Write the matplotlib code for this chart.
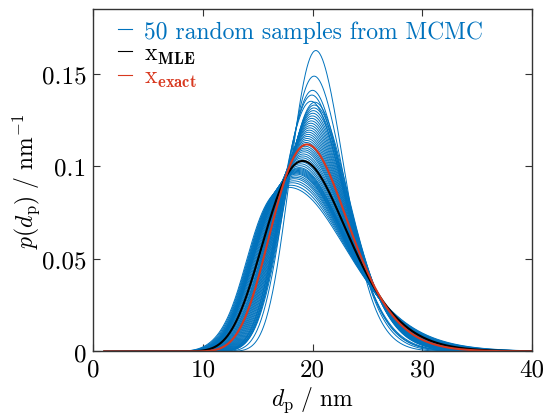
import numpy as np
import matplotlib
matplotlib.use("Agg")
import matplotlib.pyplot as plt
from matplotlib.lines import Line2D

# lognormal sample curves: median / nm, log-width, shoulder weight
sample_median = [20.6, 20.5, 20.4, 20.35, 20.3,
                 20.65, 20.61, 20.58, 20.54, 20.50, 20.47, 20.43, 20.40, 20.36, 20.33,
                 20.29, 20.26, 20.22, 20.19, 20.15, 20.12, 20.09, 20.06, 20.03, 20.00,
                 19.97, 19.94, 19.92, 19.89, 19.86, 19.83, 19.81,
                 19.79, 19.76, 19.74, 19.72, 19.71, 19.70, 19.69, 19.68, 19.67, 19.66,
                 19.66, 19.65, 19.64, 19.63, 19.62, 19.61, 19.60, 19.58]
sample_sigma = [0.120, 0.132, 0.140, 0.143, 0.147,
                0.145, 0.147, 0.149, 0.151, 0.153, 0.155, 0.157, 0.159, 0.161, 0.163,
                0.165, 0.167, 0.169, 0.171, 0.173, 0.175, 0.177, 0.179, 0.181, 0.183,
                0.185, 0.187, 0.189, 0.191, 0.193, 0.195, 0.197,
                0.199, 0.201, 0.203, 0.205, 0.206, 0.207, 0.208, 0.209, 0.210, 0.211,
                0.212, 0.214, 0.216, 0.218, 0.221, 0.224, 0.228, 0.232]
sample_shoulder = [0, 0, 0, 0, 0,
                   0, 0, 0, 0, 0, 0, 0, 0, 0, 0,
                   0, 0, 0, 0, 0, 0, 0, 0, 0, 0,
                   0, 0, 0, 0.003, 0.005, 0.007, 0.009,
                   0.012, 0.015, 0.018, 0.021, 0.023, 0.025, 0.027, 0.029, 0.031, 0.033,
                   0.035, 0.037, 0.039, 0.041, 0.043, 0.045, 0.047, 0.050]
shoulder_median = 15.5
shoulder_sigma = 0.10

mle_median, mle_sigma = 19.87, 0.199
exact_median, exact_sigma = 20.14, 0.180

xticks = [0, 10, 20, 30, 40]
yticks = [0, 0.05, 0.1, 0.15]
ytick_labels = ["0", "0.05", "0.1", "0.15"]

blue = "#0072BD"
red = "#D8381F"


def lognorm(d, med, s):
    return np.exp(-(np.log(d / med)) ** 2 / (2 * s ** 2)) / (d * s * np.sqrt(2 * np.pi))


plt.rcParams["mathtext.fontset"] = "cm"
plt.rcParams["font.family"] = "cmr10"
plt.rcParams["axes.formatter.use_mathtext"] = True

fig = plt.figure(figsize=(5.48, 4.14), dpi=100)
ax = fig.add_axes([0.1703, 0.1486, 0.800, 0.8273])

d = np.linspace(1, 40, 600)
for med, s, w in zip(sample_median, sample_sigma, sample_shoulder):
    p = (1 - w) * lognorm(d, med, s) + w * lognorm(d, shoulder_median, shoulder_sigma)
    ax.plot(d, p, color=blue, lw=0.7)
ax.plot(d, lognorm(d, mle_median, mle_sigma), color="black", lw=1.5)
ax.plot(d, lognorm(d, exact_median, exact_sigma), color=red, lw=1.5)

ax.set_xlim(0, 40)
ax.set_ylim(0, 0.185)
ax.set_xticks(xticks)
ax.set_xticklabels([str(t) for t in xticks])
ax.set_yticks(yticks)
ax.set_yticklabels(ytick_labels)
ax.tick_params(direction="in", top=True, right=True, labelsize=18, length=5,
               width=0.8, color="#333333", pad=5)
for sp in ax.spines.values():
    sp.set_color("#333333")
    sp.set_linewidth(1.0)

ax.set_xlabel(r"$d_\mathrm{p}\ /\ \mathrm{nm}$", fontsize=17, labelpad=3)
ax.set_ylabel(r"$p(d_\mathrm{p})\ /\ \mathrm{nm}^{-1}$", fontsize=17, labelpad=0)

handles = [Line2D([], [], color=blue, lw=0.8),
           Line2D([], [], color="black", lw=0.8),
           Line2D([], [], color=red, lw=0.8)]
labels = ["50 random samples from MCMC",
          r"$\mathrm{x}_{\mathbf{MLE}}$",
          r"$\mathrm{x}_{\mathbf{exact}}$"]
leg = ax.legend(handles, labels, loc="upper left", frameon=False, fontsize=17,
                handlelength=0.6, handletextpad=0.5, labelspacing=0.0,
                borderaxespad=0.0, bbox_to_anchor=(0.035, 0.995))
for txt, c in zip(leg.get_texts(), [blue, "black", red]):
    txt.set_color(c)

fig.savefig("out.png", dpi=100)
